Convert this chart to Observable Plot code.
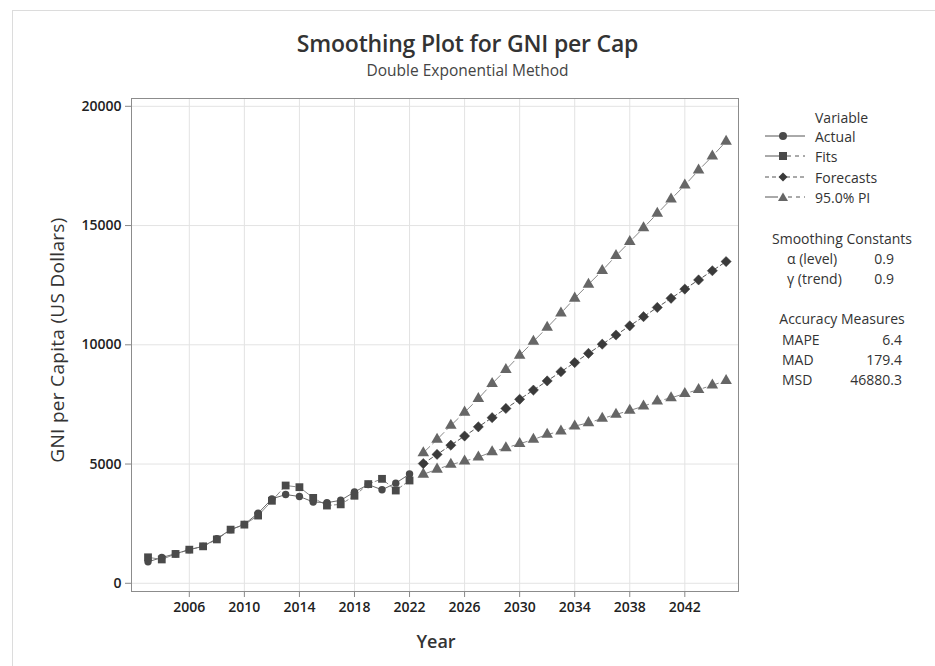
<!DOCTYPE html>
<html><head><meta charset="utf-8">
<script src="https://cdn.jsdelivr.net/npm/d3@7"></script>
<script src="https://cdn.jsdelivr.net/npm/@observablehq/plot@0.6"></script>
<style>
body{margin:0;background:#fff;font-family:"Open Sans","Noto Sans",sans-serif;color:#333}
#wrap{position:relative;width:935px;height:666px;overflow:hidden;background:#fff}
#border{position:absolute;left:12px;top:10px;width:1000px;height:1000px;border:1px solid #dcdcdc;box-sizing:border-box}
.ctr{position:absolute;left:0;width:935px;text-align:center;white-space:nowrap}
#title{top:27px;font-size:23px;font-weight:600;color:#333;letter-spacing:-0.2px}
#subtitle{top:59px;font-size:15.5px;color:#444}
#chart{position:absolute;left:0;top:90px}
#ylab{position:absolute;left:57px;top:340px;transform:translate(-50%,-50%) rotate(-90deg);font-size:19px;color:#333;white-space:nowrap;letter-spacing:0.3px}
#xlab{position:absolute;left:436px;top:641px;transform:translate(-50%,-50%);font-size:18px;color:#333;font-weight:600}
#legend{position:absolute;left:760px;top:104px;font-size:14px;color:#333}
.lt{position:absolute;white-space:nowrap;transform:translateY(-50%)}
</style></head>
<body><div id="wrap">
<div id="border"></div>
<div id="title" class="ctr">Smoothing Plot for GNI per Cap</div>
<div id="subtitle" class="ctr">Double Exponential Method</div>
<div id="chart"></div>
<div id="ylab">GNI per Capita (US Dollars)</div>
<div id="xlab">Year</div>
<div id="legend"></div>
</div>
<script>
const years = [2003,2004,2005,2006,2007,2008,2009,2010,2011,2012,2013,2014,2015,2016,2017,2018,2019,2020,2021,2022];
const actual = [900,1080,1240,1410,1550,1870,2250,2470,2940,3540,3720,3640,3410,3380,3480,3830,4140,3920,4200,4580];
const fits   = [1090,1000,1230,1410,1550,1840,2250,2460,2840,3460,4100,4030,3580,3260,3310,3670,4160,4380,3890,4310];
const fyears = [2023,2024,2025,2026,2027,2028,2029,2030,2031,2032,2033,2034,2035,2036,2037,2038,2039,2040,2041,2042,2043,2044,2045];
const forecasts = [5020,5405,5790,6175,6560,6945,7330,7715,8100,8485,8870,9255,9640,10025,10410,10795,11180,11565,11950,12335,12720,13105,13490];
const upperPI = [5470,6030,6615,7170,7745,8370,8955,9555,10140,10725,11325,11950,12535,13110,13735,14320,14905,15505,16105,16690,17320,17905,18530];
const lowerPI = [4570,4780,4980,5120,5290,5510,5680,5850,6030,6240,6380,6590,6730,6910,7080,7245,7425,7635,7775,7955,8120,8305,8495];
const xTicks = [2006,2010,2014,2018,2022,2026,2030,2034,2038,2042];
const yTicks = [0,5000,10000,15000,20000];
const legendItems = ["Actual","Fits","Forecasts","95.0% PI"];
const constLabels = ["α (level)","γ (trend)"];
const constValues = ["0.9","0.9"];
const accLabels = ["MAPE","MAD","MSD"];
const accValues = ["6.4","179.4","46880.3"];

const hist = years.map((y,i)=>({year:y, actual:actual[i], fits:fits[i]}));
const fc = fyears.map((y,i)=>({year:y, f:forecasts[i], up:upperPI[i], lo:lowerPI[i]}));

const cDark="#4a4a4a", cDia="#3a3a3a", cTri="#666666", cLine="#6a6a6a";
const chart = Plot.plot({
  width:935, height:576,
  marginLeft:131, marginRight:197, marginTop:8, marginBottom:75,
  x:{domain:[2001.8,2045.9]},
  y:{domain:[-344,20327]},
  style:{fontFamily:'"Open Sans","Noto Sans",sans-serif', fontSize:"14px", color:"#222", background:"transparent"},
  marks:[
    Plot.gridX(xTicks,{stroke:"#e3e3e3", strokeOpacity:1}),
    Plot.gridY(yTicks,{stroke:"#e3e3e3", strokeOpacity:1}),
    Plot.axisX(xTicks,{tickSize:6, tickPadding:5, tickFormat:d=>String(d), label:null, fontWeight:600, stroke:"#888"}),
    Plot.axisY(yTicks,{tickSize:6, tickPadding:4, tickFormat:d=>String(d), label:null, fontWeight:600, stroke:"#888"}),
    Plot.line(hist,{x:"year", y:"fits", stroke:"#8a8a8a", strokeWidth:1, strokeDasharray:"9,3,3,3"}),
    Plot.line(hist,{x:"year", y:"actual", stroke:cLine, strokeWidth:1}),
    Plot.line(fc,{x:"year", y:"up", stroke:"#888", strokeWidth:1, strokeDasharray:"9,4,3,4"}),
    Plot.line(fc,{x:"year", y:"lo", stroke:"#888", strokeWidth:1, strokeDasharray:"9,4,3,4"}),
    Plot.line(fc,{x:"year", y:"f", stroke:"#555", strokeWidth:1, strokeDasharray:"4,3"}),
    Plot.dot(hist,{x:"year", y:"actual", symbol:"circle", r:3.7, fill:cDark}),
    Plot.dot(hist,{x:"year", y:"fits", symbol:"square", r:4.4, fill:cDark}),
    Plot.dot(fc,{x:"year", y:"up", symbol:"triangle", r:4.3, fill:cTri}),
    Plot.dot(fc,{x:"year", y:"lo", symbol:"triangle", r:4.3, fill:cTri}),
    Plot.dot(fc,{x:"year", y:"f", symbol:"diamond2", r:4.6, fill:cDia, stroke:cDia, strokeWidth:0.5}),
    Plot.frame({stroke:"#8c8c8c"})
  ]
});
document.getElementById("chart").appendChild(chart);

// legend
const L = document.getElementById("legend");
function add(html, left, top, extra){ const d=document.createElement("div"); d.className="lt"; d.style.left=left+"px"; d.style.top=top+"px"; if(extra) Object.assign(d.style, extra); d.innerHTML=html; L.appendChild(d); return d; }
add("Variable", 55, 13);
const sym = {
  "Actual": `<line x1="0" y1="6" x2="40" y2="6" stroke="#555"/><circle cx="18" cy="6" r="4" fill="${cDark}"/>`,
  "Fits": `<line x1="0" y1="6" x2="14" y2="6" stroke="#555"/><line x1="22" y1="6" x2="40" y2="6" stroke="#555" stroke-dasharray="4,4"/><rect x="14" y="2" width="8" height="8" fill="${cDark}"/>`,
  "Forecasts": `<line x1="0" y1="6" x2="40" y2="6" stroke="#555" stroke-dasharray="4,3"/><path d="M18,1.5L22.5,6L18,10.5L13.5,6Z" fill="${cDia}"/>`,
  "95.0% PI": `<line x1="0" y1="6" x2="13" y2="6" stroke="#555"/><line x1="23" y1="6" x2="40" y2="6" stroke="#555" stroke-dasharray="4,4"/><path d="M18,1.5L23,10L13,10Z" fill="${cTri}"/>`
};
legendItems.forEach((name,i)=>{
  const top = 32 + i*20.3;
  add(`<svg width="42" height="12" style="display:block">${sym[name]}</svg>`, 5, top);
  add(name, 55, top);
});
add("Smoothing Constants", 82, 134, {transform:"translate(-50%,-50%)"});
constLabels.forEach((t,i)=>{
  add(t, 27, 154 + i*20);
  add(constValues[i], 134, 154 + i*20, {transform:"translate(-100%,-50%)"});
});
add("Accuracy Measures", 82, 214, {transform:"translate(-50%,-50%)"});
accLabels.forEach((t,i)=>{
  add(t, 22, 235 + i*20);
  add(accValues[i], 142, 235 + i*20, {transform:"translate(-100%,-50%)"});
});
</script>
</body></html>
